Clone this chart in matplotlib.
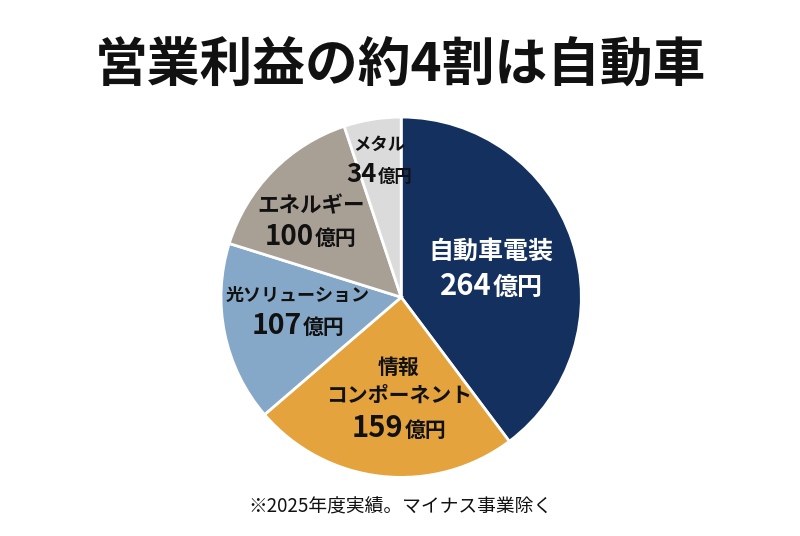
import numpy as np
import matplotlib
matplotlib.use("Agg")
import matplotlib.pyplot as plt
from matplotlib.offsetbox import TextArea, HPacker, VPacker, AnnotationBbox

plt.rcParams['font.family'] = ['Noto Sans CJK JP', 'DejaVu Sans']

# ================================
# DATOS
# ================================
titulo = "営業利益の約4割は自動車"
nota = "※2025年度実績。マイナス事業除く"
segmentos = ["自動車電装", "情報\nコンポーネント", "光ソリューション", "エネルギー", "メタル"]
valores = [264, 159, 107, 100, 34]
unidad = "億円"
colores = ["#14305f", "#e4a33d", "#86a8c8", "#a89f95", "#dbdbdb"]
color_texto = ["white", "#111111", "#111111", "#111111", "#111111"]

# estilo de cada etiqueta: tamaño del nombre, de las cifras y de la unidad
tam_nombre = [18, 15, 13, 15.5, 12.5]
tam_cifra = [21, 21, 20.5, 20, 18.5]
tam_unidad = [18, 15, 15, 15, 12.5]
# distancia radial y ajuste angular de cada etiqueta
radio_et = [0.52, 0.57, 0.58, 0.65, 0.76]
ajuste_ang = [-2, 5, -3, 5, 0]

# ================================
# FIGURA
# ================================
fig = plt.figure(figsize=(8, 5.36), dpi=100)
fig.patch.set_facecolor("white")

fig.text(0.5, 0.876, titulo, ha="center", va="center",
         fontsize=38, fontweight="bold", color="#111111")
fig.text(0.5, 0.054, nota, ha="center", va="center",
         fontsize=13.5, color="#111111")

ax = fig.add_axes([0.274, 0.106, 0.455, 0.679])
wedges, _ = ax.pie(valores, colors=colores, startangle=90, counterclock=False,
                   radius=1, wedgeprops=dict(edgecolor="white", linewidth=2))
ax.set_xlim(-1.01, 1.01)
ax.set_ylim(-1.01, 1.01)
ax.set_aspect("equal")
ax.axis("off")

for i, w in enumerate(wedges):
    col = color_texto[i]
    ang = np.radians((w.theta1 + w.theta2) / 2 + ajuste_ang[i])
    x, y = radio_et[i] * np.cos(ang), radio_et[i] * np.sin(ang)

    lineas = []
    for parte in segmentos[i].split("\n"):
        lineas.append(TextArea(parte, textprops=dict(
            fontsize=tam_nombre[i], fontweight="bold", color=col)))
    cifra = TextArea(str(valores[i]), textprops=dict(
        fontsize=tam_cifra[i], fontweight="bold", color=col))
    uni = TextArea(unidad, textprops=dict(
        fontsize=tam_unidad[i], fontweight="bold", color=col))
    lineas.append(HPacker(children=[cifra, uni], align="baseline", pad=0, sep=1))

    caja = VPacker(children=lineas, align="center", pad=0, sep=5)
    ab = AnnotationBbox(caja, (x, y), frameon=False, box_alignment=(0.5, 0.5))
    ax.add_artist(ab)

fig.savefig("out.png", dpi=100)
